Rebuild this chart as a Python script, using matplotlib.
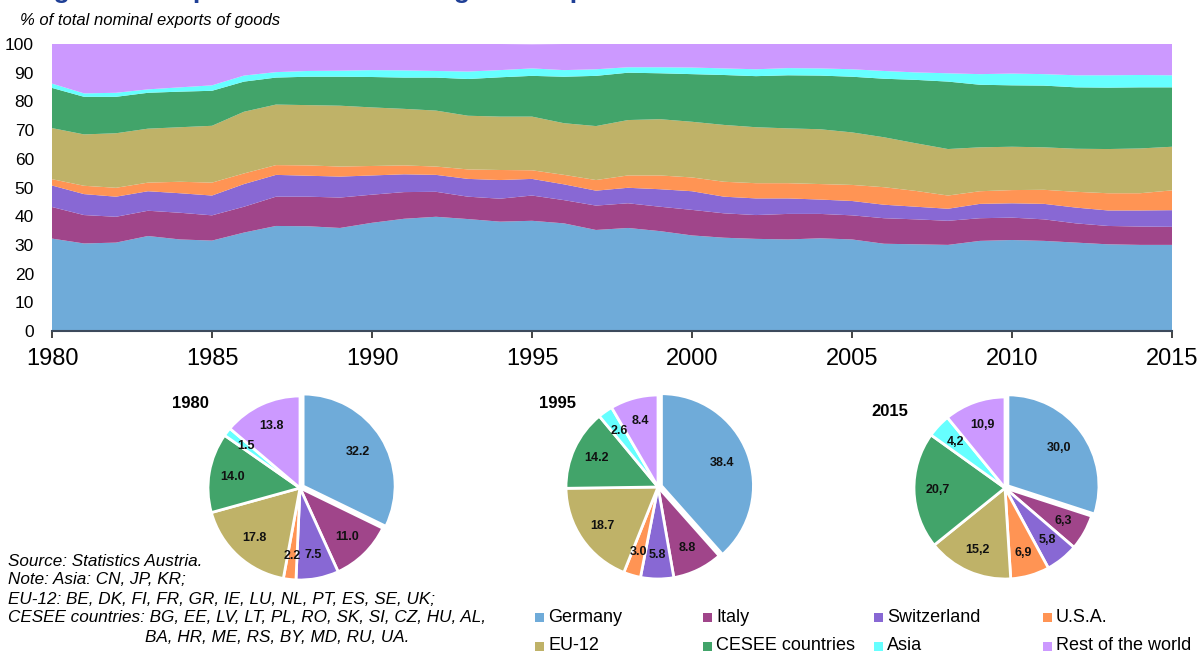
import math
import matplotlib
matplotlib.use("Agg")
import matplotlib.pyplot as plt
from matplotlib.patches import Rectangle

plt.rcParams['font.family'] = ['Liberation Sans', 'DejaVu Sans']

# data: share of total nominal exports of goods (%)
years = list(range(1980, 2016))
germany = [32.2, 30.5, 30.8, 33.1, 31.9, 31.5, 34.3, 36.6, 36.5, 35.9, 37.7, 39.1,
           39.8, 39.0, 38.1, 38.4, 37.5, 35.2, 35.9, 34.8, 33.3, 32.5, 32.1, 31.9,
           32.3, 31.9, 30.4, 30.2, 30.0, 31.4, 31.7, 31.4, 30.8, 30.2, 30.0, 30.0]
italy = [11.0, 9.9, 9.0, 8.8, 9.3, 8.8, 9.0, 10.2, 10.3, 10.6, 9.8, 9.3,
         8.7, 7.8, 8.0, 8.8, 8.1, 8.5, 8.6, 8.5, 8.9, 8.5, 8.3, 8.9,
         8.5, 8.4, 8.9, 8.7, 8.4, 7.9, 7.8, 7.5, 6.7, 6.4, 6.4, 6.3]
switzerland = [7.5, 7.3, 7.0, 6.8, 6.8, 6.9, 7.9, 7.6, 7.3, 7.3, 6.7, 6.2,
               5.9, 6.2, 6.5, 5.8, 5.5, 5.2, 5.4, 6.1, 6.5, 5.8, 5.8, 5.4,
               5.0, 5.0, 4.7, 4.4, 4.2, 5.0, 5.0, 5.4, 5.5, 5.4, 5.6, 5.8]
usa = [2.2, 2.9, 3.1, 3.0, 4.0, 4.5, 3.7, 3.4, 3.6, 3.5, 3.3, 3.1,
       2.9, 3.3, 3.5, 3.0, 3.3, 3.7, 4.3, 4.8, 4.8, 5.2, 5.3, 5.3,
       5.4, 5.6, 6.1, 5.5, 4.6, 4.4, 4.6, 4.9, 5.5, 6.0, 6.0, 6.9]
eu12 = [17.8, 17.9, 19.0, 18.8, 19.0, 19.8, 21.5, 21.1, 21.0, 21.2, 20.4, 19.7,
        19.5, 18.7, 18.6, 18.7, 18.0, 18.8, 19.3, 19.6, 19.4, 19.8, 19.5, 19.1,
        19.1, 18.3, 17.4, 16.6, 16.2, 15.3, 15.1, 14.8, 15.0, 15.4, 15.6, 15.2]
cesee = [14.0, 13.1, 12.7, 12.5, 12.4, 12.2, 10.5, 9.4, 9.9, 10.1, 10.6, 10.9,
         11.5, 12.8, 13.7, 14.2, 16.2, 17.5, 16.5, 16.0, 16.6, 17.4, 17.8, 18.5,
         18.7, 19.4, 20.4, 22.1, 23.5, 21.8, 21.4, 21.5, 21.4, 21.4, 21.3, 20.7]
asia = [1.5, 1.2, 1.4, 1.2, 1.5, 1.9, 2.1, 1.9, 2.0, 2.1, 2.4, 2.5,
        2.3, 2.6, 2.5, 2.6, 2.3, 2.3, 1.9, 2.1, 2.3, 2.3, 2.4, 2.5,
        2.5, 2.6, 2.7, 2.6, 2.9, 3.7, 4.1, 4.0, 4.2, 4.3, 4.3, 4.2]
rest = [13.8, 17.2, 17.0, 15.8, 15.1, 14.4, 11.0, 9.8, 9.4, 9.3, 9.1, 9.2,
        9.4, 9.6, 9.1, 8.4, 9.1, 8.8, 8.1, 8.1, 8.2, 8.5, 8.8, 8.4,
        8.5, 8.8, 9.4, 9.9, 10.2, 10.5, 10.3, 10.5, 10.9, 10.9, 10.8, 10.9]

names = ['Germany', 'Italy', 'Switzerland', 'U.S.A.', 'EU-12',
         'CESEE countries', 'Asia', 'Rest of the world']
colors = ['#6FABD9', '#A0458A', '#8868D4', '#FF9454', '#BFB268',
          '#42A46A', '#66FFFF', '#CC99FF']

# pie data (as printed)
pie_1980 = [32.2, 11.0, 7.5, 2.2, 17.8, 14.0, 1.5, 13.8]
pie_1995 = [38.4, 8.8, 5.8, 3.0, 18.7, 14.2, 2.6, 8.4]
pie_2015 = [30.0, 6.3, 5.8, 6.9, 15.2, 20.7, 4.2, 10.9]

W, H = 1201, 655
fig = plt.figure(figsize=(W / 100, H / 100), dpi=100)


def box(left, top, right, bottom):
    # pixel box -> figure fraction rect
    return [left / W, 1 - bottom / H, (right - left) / W, (bottom - top) / H]


# heading, cut off at the top edge like in the source
fig.text(20 / W, 1 + 2 / H, "Regional composition of Austria's goods exports",
         fontsize=19, fontweight='bold', color='#1F3F96', va='baseline')
fig.text(20 / W, 1 - 21 / H, '% of total nominal exports of goods',
         fontsize=12, style='italic', va='center')

# stacked area
ax = fig.add_axes(box(52, 44, 1172, 331))
ax.stackplot(years, germany, italy, switzerland, usa, eu12, cesee, asia, rest,
             colors=colors, linewidth=0)
ax.set_xlim(1980, 2015)
ax.set_ylim(0, 100)
ax.set_yticks(range(0, 101, 10))
ax.set_xticks(range(1980, 2016, 5))
ax.tick_params(axis='y', length=0, pad=13, labelsize=12.5)
ax.tick_params(axis='x', length=5, width=1.2, color='#222222', pad=7, labelsize=17)
for s in ['top', 'left', 'right']:
    ax.spines[s].set_visible(False)
ax.spines['bottom'].set_color('#3C4A5C')
ax.spines['bottom'].set_linewidth(1.5)


def draw_pie(cx, cy, r, vals, title, tx, ty, comma=False):
    lim = 1.12
    half = r * lim
    pax = fig.add_axes(box(cx - half, cy - half, cx + half, cy + half))
    labels = ['%.1f' % v for v in vals]
    if comma:
        labels = [t.replace('.', ',') for t in labels]
    explode = [0.04] + [0.0] * (len(vals) - 1)
    pax.pie(vals, colors=colors, startangle=90, counterclock=False,
            explode=explode, radius=1,
            wedgeprops=dict(edgecolor='white', linewidth=2))
    total = sum(vals)
    ang = 90.0
    for v, t in zip(vals, labels):
        mid = ang - v / total * 360 / 2
        ang -= v / total * 360
        d = 0.74
        pax.text(d * math.cos(math.radians(mid)), d * math.sin(math.radians(mid)), t,
                 ha='center', va='center', fontsize=9, fontweight='bold', color='#111111')
    pax.set_xlim(-lim, lim)
    pax.set_ylim(-lim, lim)
    pax.set_aspect('equal')
    pax.axis('off')
    fig.text(tx / W, 1 - ty / H, title, fontsize=12, fontweight='bold',
             ha='center', va='center')


draw_pie(300, 488, 92, pie_1980, '1980', 190, 404)
draw_pie(658, 487, 92, pie_1995, '1995', 557, 404)
draw_pie(1005, 488, 91, pie_2015, '2015', 890, 411, comma=True)

# notes
notes = ['Source: Statistics Austria.',
         'Note: Asia: CN, JP, KR;',
         'EU-12: BE, DK, FI, FR, GR, IE, LU, NL, PT, ES, SE, UK;',
         'CESEE countries: BG, EE, LV, LT, PL, RO, SK, SI, CZ, HU, AL,']
for i, line in enumerate(notes):
    fig.text(8 / W, 1 - (561 + 19 * i) / H, line, fontsize=12.3, style='italic',
             va='center')
fig.text(145 / W, 1 - 637 / H, 'BA, HR, ME, RS, BY, MD, RU, UA.', fontsize=12.3,
         style='italic', va='center')

# legend, 2 rows x 4 columns
col_x = [535, 703, 874, 1043]
row_y = [617, 646]
for i, (name, c) in enumerate(zip(names, colors)):
    x = col_x[i % 4]
    y = row_y[i // 4]
    fig.patches.append(Rectangle((x / W, 1 - (y + 4.5) / H), 9 / W, 9 / H,
                                 transform=fig.transFigure, facecolor=c,
                                 edgecolor='none'))
    fig.text((x + 13) / W, 1 - y / H, name, fontsize=13, va='center')

fig.savefig('out.png', dpi=100)
